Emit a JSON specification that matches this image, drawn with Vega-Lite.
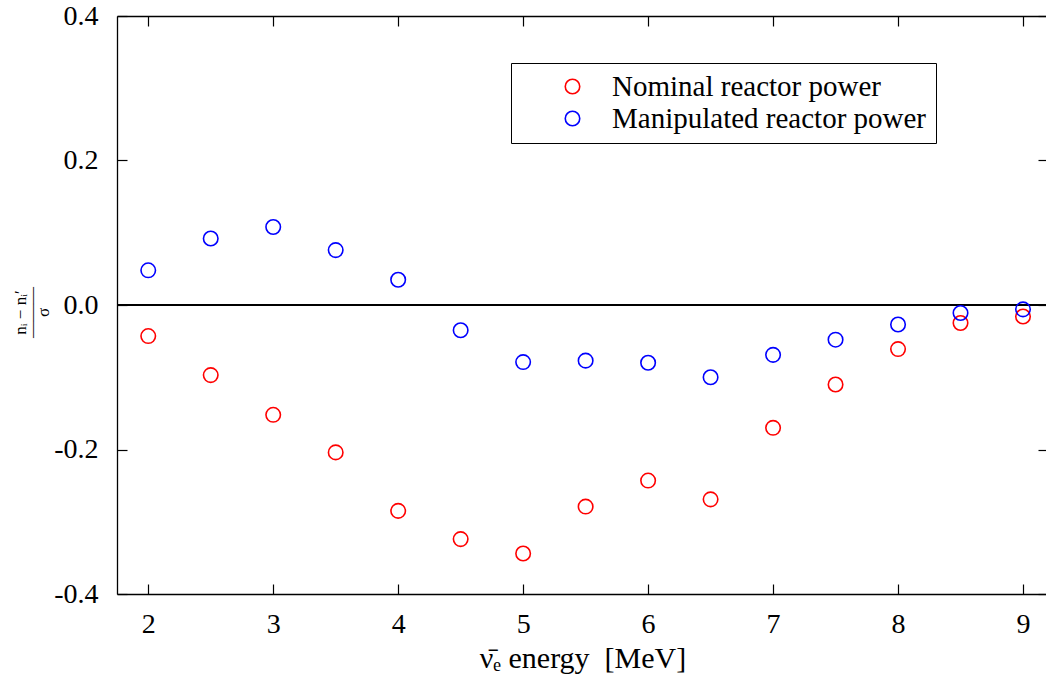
{
  "$schema": "https://vega.github.io/schema/vega-lite/v6.json",
  "width": 931,
  "height": 578,
  "autosize": {"type": "none"},
  "padding": {"left": 117, "top": 16, "right": 0, "bottom": 83},
  "background": "white",
  "config": {
    "view": {"stroke": null},
    "font": "Liberation Serif, Times New Roman, DejaVu Serif",
    "axis": {
      "domainColor": "black",
      "domainWidth": 1.3,
      "tickColor": "black",
      "tickWidth": 1.2,
      "tickSize": -10,
      "grid": false,
      "labelFont": "Liberation Serif, Times New Roman, DejaVu Serif",
      "labelFontSize": 28,
      "labelColor": "black",
      "titleFont": "Liberation Serif, Times New Roman, DejaVu Serif",
      "titleColor": "black",
      "titleFontWeight": "normal"
    },
    "legend": {
      "labelFont": "Liberation Serif, Times New Roman, DejaVu Serif"
    }
  },
  "data": {
    "values": [
      {"E": 2, "series": "Nominal reactor power", "v": -0.043},
      {"E": 2.5, "series": "Nominal reactor power", "v": -0.097},
      {"E": 3, "series": "Nominal reactor power", "v": -0.152},
      {"E": 3.5, "series": "Nominal reactor power", "v": -0.204},
      {"E": 4, "series": "Nominal reactor power", "v": -0.285},
      {"E": 4.5, "series": "Nominal reactor power", "v": -0.324},
      {"E": 5, "series": "Nominal reactor power", "v": -0.344},
      {"E": 5.5, "series": "Nominal reactor power", "v": -0.279},
      {"E": 6, "series": "Nominal reactor power", "v": -0.243},
      {"E": 6.5, "series": "Nominal reactor power", "v": -0.269},
      {"E": 7, "series": "Nominal reactor power", "v": -0.170},
      {"E": 7.5, "series": "Nominal reactor power", "v": -0.110},
      {"E": 8, "series": "Nominal reactor power", "v": -0.061},
      {"E": 8.5, "series": "Nominal reactor power", "v": -0.025},
      {"E": 9, "series": "Nominal reactor power", "v": -0.016},
      {"E": 2, "series": "Manipulated reactor power", "v": 0.048},
      {"E": 2.5, "series": "Manipulated reactor power", "v": 0.092},
      {"E": 3, "series": "Manipulated reactor power", "v": 0.108},
      {"E": 3.5, "series": "Manipulated reactor power", "v": 0.076},
      {"E": 4, "series": "Manipulated reactor power", "v": 0.035},
      {"E": 4.5, "series": "Manipulated reactor power", "v": -0.035},
      {"E": 5, "series": "Manipulated reactor power", "v": -0.079},
      {"E": 5.5, "series": "Manipulated reactor power", "v": -0.077},
      {"E": 6, "series": "Manipulated reactor power", "v": -0.080},
      {"E": 6.5, "series": "Manipulated reactor power", "v": -0.100},
      {"E": 7, "series": "Manipulated reactor power", "v": -0.069},
      {"E": 7.5, "series": "Manipulated reactor power", "v": -0.048},
      {"E": 8, "series": "Manipulated reactor power", "v": -0.027},
      {"E": 8.5, "series": "Manipulated reactor power", "v": -0.011},
      {"E": 9, "series": "Manipulated reactor power", "v": -0.006}
    ]
  },
  "layer": [
    {
      "mark": {"type": "rule", "color": "black", "strokeWidth": 1.3},
      "encoding": {
        "y": {"datum": 0, "type": "quantitative", "axis": null}
      }
    },
    {
      "mark": {"type": "point", "opacity": 0},
      "encoding": {
        "x": {"field": "E", "type": "quantitative", "scale": {"domain": [1.75, 9.2], "nice": false, "zero": false},
          "axis": {"orient": "top", "values": [2, 3, 4, 5, 6, 7, 8, 9], "labels": false, "title": null}},
        "y": {"field": "v", "type": "quantitative", "scale": {"domain": [-0.4, 0.4], "nice": false},
          "axis": {"orient": "right", "values": [-0.4, -0.2, 0, 0.2, 0.4], "labels": false, "title": null}}
      }
    },
    {
      "mark": {"type": "point", "filled": false, "strokeWidth": 1.6, "size": 210, "shape": "circle", "opacity": 1},
      "encoding": {
        "x": {"field": "E", "type": "quantitative",
          "axis": {"orient": "bottom", "values": [2, 3, 4, 5, 6, 7, 8, 9], "labelPadding": 26,
            "title": "ν̄ₑ energy\u00a0\u00a0[MeV]", "titleFontSize": 30, "titlePadding": 5}},
        "y": {"field": "v", "type": "quantitative",
          "axis": {"orient": "left", "values": [-0.4, -0.2, 0, 0.2, 0.4],
            "labelExpr": "replace(format(datum.value, '.1f'), '\u2212', '-')", "labelPadding": 29,
            "title": ["nᵢ − nᵢ′", "———", "σ"], "titleFontSize": 17, "titleLineHeight": 11.5,
            "titleX": -88, "titleY": 296, "titleAngle": -90}},
        "color": {"field": "series", "type": "nominal",
          "scale": {"domain": ["Nominal reactor power", "Manipulated reactor power"], "range": ["#ff0000", "#0000ff"]},
          "legend": {"orient": "none", "legendX": 394, "legendY": 47, "title": null,
            "strokeColor": "black", "fillColor": "white", "padding": 9,
            "labelFont": "Liberation Serif, Times New Roman, DejaVu Serif", "labelFontSize": 29, "labelColor": "black", "labelLimit": 0,
            "symbolType": "circle", "symbolSize": 210, "symbolStrokeWidth": 1.6, "symbolOffset": 38,
            "labelOffset": 25, "rowPadding": 2}}
      }
    }
  ],
  "resolve": {"axis": {"x": "independent", "y": "independent"}}
}
